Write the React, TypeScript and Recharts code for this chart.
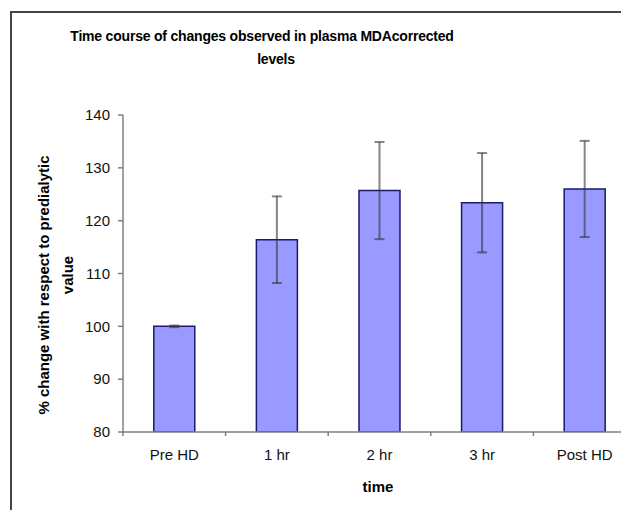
import { BarChart, Bar, XAxis, YAxis, ErrorBar } from 'recharts'

const categories = ['Pre HD', '1 hr', '2 hr', '3 hr', 'Post HD']
const means = [100, 116.4, 125.7, 123.4, 126]
const errors = [0.15, 8.2, 9.2, 9.4, 9.1]
const yTicks = [80, 90, 100, 110, 120, 130, 140]

const data = categories.map((name, i) => ({ name, value: means[i], err: errors[i] }))

const font = '"Liberation Sans", Arial, sans-serif'

// category label plus a small tick at the left edge of each band (Excel style)
function CategoryTick(props: any) {
  const { x, y, payload } = props
  const half = payload && payload.offset ? payload.offset : 0
  return (
    <g>
      {half > 0 && (
        <line x1={x - half} y1={y} x2={x - half} y2={y + 4} stroke="#808080" strokeWidth={1.5} />
      )}
      <text x={x} y={y + 17} dy="0.71em" textAnchor="middle" fill="#111" fontSize={15} fontFamily={font}>
        {payload.value}
      </text>
    </g>
  )
}

export default function App() {
  return (
    <div style={{ position: 'fixed', left: 0, top: 0, width: 621, height: 510, overflow: 'hidden', background: '#fff' }}>
      <div
        style={{
          position: 'absolute',
          left: 10,
          top: 11,
          width: 700,
          height: 600,
          borderLeft: '2px solid #444',
          borderTop: '2px solid #444',
        }}
      />
      <div style={{ position: 'absolute', left: 0, top: 0 }}>
        <BarChart
          width={660}
          height={510}
          data={data}
          margin={{ top: 115, right: 24, bottom: 48, left: 73 }}
          barCategoryGap="30%"
        >
          <XAxis
            dataKey="name"
            height={30}
            tickLine={false}
            tickSize={0}
            tickMargin={0}
            axisLine={{ stroke: '#808080', strokeWidth: 1.5 }}
            tick={<CategoryTick />}
            interval={0}
          />
          <YAxis
            domain={[80, 140]}
            ticks={yTicks}
            width={50}
            tickSize={5}
            tickMargin={8}
            axisLine={{ stroke: '#808080', strokeWidth: 1.5 }}
            tickLine={{ stroke: '#808080', strokeWidth: 1.5 }}
            tick={{ fill: '#111', fontSize: 15, fontFamily: font }}
            allowDataOverflow
          />
          <Bar dataKey="value" fill="#9999ff" stroke="#1a1a6e" strokeWidth={1.5} isAnimationActive={false}>
            <ErrorBar dataKey="err" width={5} stroke="#333" strokeOpacity={0.6} strokeWidth={2} isAnimationActive={false} />
          </Bar>
        </BarChart>
      </div>
      <svg width={621} height={510} style={{ position: 'absolute', left: 0, top: 0, pointerEvents: 'none' }}>
        <g fontFamily={font} fontWeight="bold" fill="#000">
          <text x={262} y={41} textAnchor="middle" fontSize={14} letterSpacing={-0.2}>
            Time course of changes observed in plasma MDAcorrected
          </text>
          <text x={276} y={64} textAnchor="middle" fontSize={14} letterSpacing={-0.2}>
            levels
          </text>
          <text transform="translate(43,285) rotate(-90)" textAnchor="middle" dominantBaseline="central" fontSize={15}>
            % change with respect to predialytic
          </text>
          <text transform="translate(67,275) rotate(-90)" textAnchor="middle" dominantBaseline="central" fontSize={15}>
            value
          </text>
          <text x={378} y={492} textAnchor="middle" fontSize={15}>
            time
          </text>
        </g>
      </svg>
    </div>
  )
}
